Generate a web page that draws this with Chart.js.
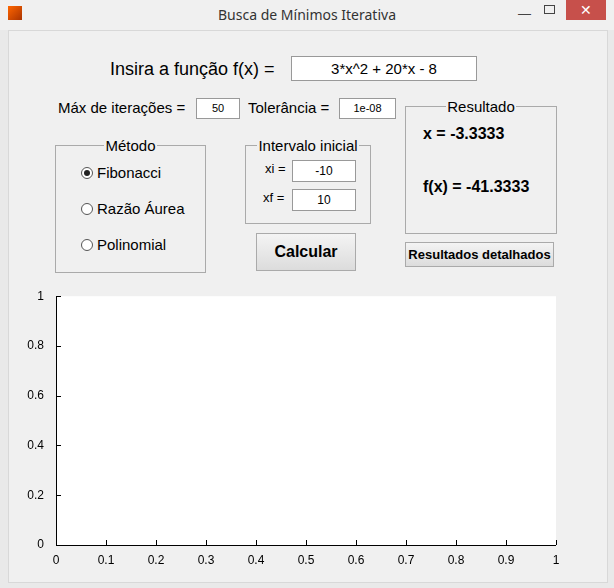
<!DOCTYPE html>
<html><head><meta charset="utf-8">
<script src="https://cdn.jsdelivr.net/npm/chart.js@4"></script>
<style>
body{margin:0;width:614px;height:588px;background:#e9e9e9;font-family:"Liberation Sans",Arial,sans-serif;position:relative;overflow:hidden}
.abs{position:absolute}
#title{left:0;top:0;width:614px;height:30px;background:#f0f0f0;text-align:center;line-height:30px;font-family:"Noto Sans",sans-serif;font-size:14px;color:#333}
#client{left:8px;top:30px;width:598px;height:551px;background:#f0f0f0;border:1px solid #d8d8d8}
.box{border:1px solid #999;background:#fff;text-align:center;font-size:11px}
.lbl{font-size:15px;color:#000}
fieldset{position:absolute;margin:0;padding:0;border:1px solid #aaa}
legend{font-size:15px;padding:0 1px;margin-left:auto;margin-right:auto}
.radio{font-size:15px}
.rc{display:inline-block;width:10px;height:10px;border:1px solid #555;border-radius:50%;background:#fff;vertical-align:-1px;margin-right:4px;position:relative}
.rc.on::after{content:"";position:absolute;left:2px;top:2px;width:6px;height:6px;border-radius:50%;background:#222}
.btn{border:1px solid #aaa;background:linear-gradient(#f4f4f4,#dcdcdc);text-align:center;font-weight:bold}
</style></head><body>
<div id="title" class="abs">Busca de Mínimos Iterativa</div>
<div class="abs" style="left:8px;top:6px;width:14px;height:14px;background:linear-gradient(135deg,#f60,#a30)"></div>
<div class="abs" style="left:518px;top:6px;font-size:13px;color:#444">&#8212;</div>
<div class="abs" style="left:544px;top:5px;width:9px;height:7px;border:1px solid #444"></div>
<div class="abs" style="left:566px;top:0;width:40px;height:20px;background:#c7504b;color:#fff;text-align:center;line-height:20px;font-size:14px">&#10005;</div>
<div id="client" class="abs"></div>
<div class="abs lbl" style="left:110px;top:59px;font-size:18px">Insira a função f(x) =</div>
<div class="abs box" style="left:291px;top:56px;width:184px;height:23px;line-height:23px;font-size:15px">3*x^2 + 20*x - 8</div>
<div class="abs lbl" style="left:58px;top:99px">Máx de iterações =</div>
<div class="abs box" style="left:196px;top:98px;width:42px;height:19px;line-height:19px">50</div>
<div class="abs lbl" style="left:248px;top:99px">Tolerância =</div>
<div class="abs box" style="left:339px;top:98px;width:55px;height:19px;line-height:19px">1e-08</div>
<fieldset style="left:55px;top:137px;width:149px;height:134px"><legend>Método</legend></fieldset>
<div class="abs radio" style="left:81px;top:164px"><span class="rc on"></span>Fibonacci</div>
<div class="abs radio" style="left:81px;top:200px"><span class="rc"></span>Razão Áurea</div>
<div class="abs radio" style="left:81px;top:236px"><span class="rc"></span>Polinomial</div>
<fieldset style="left:245px;top:137px;width:124px;height:85px"><legend style="font-size:15px">Intervalo inicial</legend></fieldset>
<div class="abs" style="left:265px;top:161px;font-size:13px">xi =</div>
<div class="abs box" style="left:292px;top:160px;width:62px;height:20px;line-height:20px;font-size:12px">-10</div>
<div class="abs" style="left:263px;top:190px;font-size:13px">xf =</div>
<div class="abs box" style="left:292px;top:189px;width:62px;height:20px;line-height:20px;font-size:12px">10</div>
<div class="abs btn" style="left:256px;top:233px;width:98px;height:36px;line-height:36px;font-size:16px">Calcular</div>
<fieldset style="left:405px;top:98px;width:150px;height:134px"><legend>Resultado</legend></fieldset>
<div class="abs" style="left:423px;top:125px;font-size:16px;font-weight:bold">x = -3.3333</div>
<div class="abs" style="left:423px;top:178px;font-size:16px;font-weight:bold">f(x) = -41.3333</div>
<div class="abs btn" style="left:405px;top:242px;width:147px;height:23px;line-height:23px;font-size:13px">Resultados detalhados</div>
<div class="abs" style="left:0;top:285px;width:614px;height:303px"><canvas id="c"></canvas></div>
<script>
const xTicks=[0,0.1,0.2,0.3,0.4,0.5,0.6,0.7,0.8,0.9,1];
const yTicks=[0,0.2,0.4,0.6,0.8,1];
const seriesX=[];const seriesY=[];
const inward={id:'inward',afterDraw(ch){const c=ch.ctx,a=ch.chartArea,xs=ch.scales.x,ys=ch.scales.y;
c.save();c.fillStyle='#fff';c.restore();
c.save();c.strokeStyle='#000';c.lineWidth=1;c.beginPath();
c.moveTo(a.left+0.5,a.top);c.lineTo(a.left+0.5,a.bottom+0.5);c.lineTo(a.right,a.bottom+0.5);
xTicks.forEach(v=>{const p=Math.round(xs.getPixelForValue(v))+0.5;c.moveTo(p,a.bottom);c.lineTo(p,a.bottom-5);});
yTicks.forEach(v=>{const p=Math.round(ys.getPixelForValue(v))+0.5;c.moveTo(a.left,p);c.lineTo(a.left+5,p);});
c.stroke();c.restore();}};
const bg={id:'bg',beforeDraw(ch){const a=ch.chartArea,c=ch.ctx;c.save();c.fillStyle='#fff';c.fillRect(a.left,a.top,a.right-a.left,a.bottom-a.top);c.restore();}};
new Chart(document.getElementById('c'),{type:'scatter',
data:{datasets:[{data:seriesX.map((x,i)=>({x,y:seriesY[i]}))}]},
options:{responsive:true,maintainAspectRatio:false,animation:false,
layout:{padding:{top:10,right:58,left:0,bottom:0}},
plugins:{legend:{display:false},tooltip:{enabled:false}},
scales:{
x:{type:'linear',min:0,max:1,afterBuildTicks:s=>{s.ticks=xTicks.map(v=>({value:v}))},
afterFit:s=>{s.height=43},border:{display:false},grid:{display:false},
ticks:{color:'#000',font:{family:'Liberation Sans',size:12},padding:0,callback:v=>String(v)}},
y:{type:'linear',min:0,max:1,afterBuildTicks:s=>{s.ticks=yTicks.map(v=>({value:v}))},
afterFit:s=>{s.width=56},border:{display:false},grid:{display:false},
ticks:{color:'#000',font:{family:'Liberation Sans',size:12},padding:4,callback:v=>String(v)}}}},
plugins:[bg,inward]});
</script>
</body></html>
